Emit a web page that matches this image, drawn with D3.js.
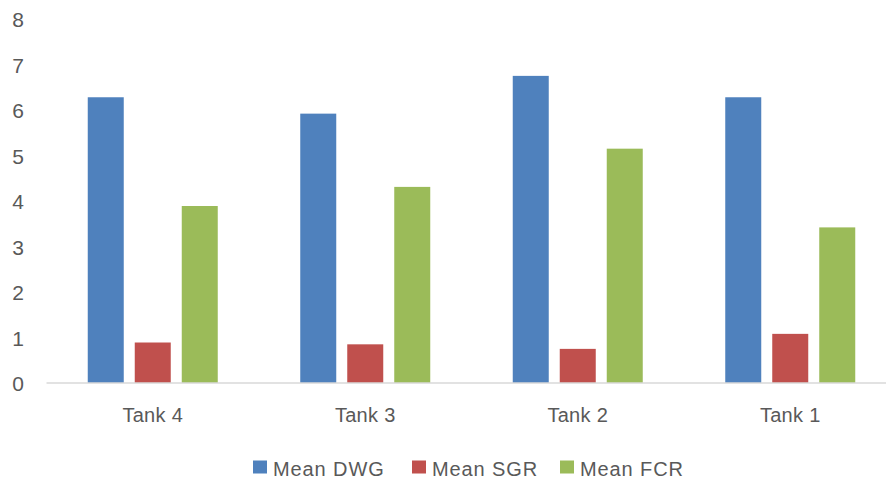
<!DOCTYPE html>
<html>
<head>
<meta charset="utf-8">
<script src="https://cdn.jsdelivr.net/npm/d3@7"></script>
<style>
  html, body { margin: 0; padding: 0; background: #fff; }
  svg { display: block; font-family: "Liberation Sans", Arial, sans-serif; }
</style>
</head>
<body>
<svg id="chart" width="886" height="479"></svg>
<script>
// Tanks in display order and the three measured means per tank
const categories = ["Tank 4", "Tank 3", "Tank 2", "Tank 1"];
const seriesNames = ["Mean DWG", "Mean SGR", "Mean FCR"];
const meanDWG = [6.28, 5.92, 6.75, 6.28];
const meanSGR = [0.89, 0.85, 0.75, 1.08];
const meanFCR = [3.89, 4.31, 5.15, 3.42];
const yTicks = [0, 1, 2, 3, 4, 5, 6, 7, 8];
const colors = ["#4f81bd", "#c0504d", "#9bbb59"];

const seriesValues = [meanDWG, meanSGR, meanFCR];
const rows = categories.map((c, i) => ({
  category: c,
  values: seriesNames.map((s, j) => ({ series: s, value: seriesValues[j][i] }))
}));

const svg = d3.select("#chart");
const plot = { left: 46.5, right: 896.5, top: 19, bottom: 383 };

const x0 = d3.scaleBand().domain(categories).range([plot.left, plot.right]).padding(0);
const groupInset = 41.25;
const x1 = d3.scaleBand().domain(seriesNames)
  .range([groupInset, x0.bandwidth() - groupInset])
  .paddingInner(0.234).paddingOuter(0);
const y = d3.scaleLinear().domain([0, 8]).range([plot.bottom, plot.top]);
const color = d3.scaleOrdinal().domain(seriesNames).range(colors);

// Bars
const groups = svg.append("g").selectAll("g").data(rows).join("g")
  .attr("transform", d => `translate(${x0(d.category)},0)`);
groups.selectAll("rect").data(d => d.values).join("rect")
  .attr("x", d => x1(d.series))
  .attr("width", x1.bandwidth())
  .attr("y", d => y(d.value))
  .attr("height", d => y(0) - y(d.value))
  .attr("fill", d => color(d.series));

// Baseline
svg.append("line")
  .attr("x1", plot.left).attr("x2", plot.right)
  .attr("y1", y(0)).attr("y2", y(0))
  .attr("stroke", "#d9d9d9").attr("stroke-width", 1.5);

// Y axis labels (no axis line or tick marks)
const yAxis = d3.axisLeft(y).tickValues(yTicks).tickSize(0).tickPadding(0).tickFormat(d3.format("d"));
const yg = svg.append("g").attr("transform", "translate(24,0)").call(yAxis);
yg.select(".domain").remove();
yg.selectAll("text")
  .attr("font-size", 21)
  .attr("font-family", "Liberation Sans, Arial, sans-serif")
  .attr("fill", "#595959")
  .attr("dy", "0.36em");

// Category labels
const xAxis = d3.axisBottom(x0).tickSize(0).tickPadding(0);
const xg = svg.append("g").attr("transform", `translate(0,${y(0)})`).call(xAxis);
xg.select(".domain").remove();
xg.selectAll("text")
  .attr("y", 39)
  .attr("dy", 0)
  .attr("font-size", 20)
  .attr("letter-spacing", 0.3)
  .attr("font-family", "Liberation Sans, Arial, sans-serif")
  .attr("fill", "#595959");

// Legend
const legendX = [253, 412, 560];
const legend = svg.append("g").selectAll("g").data(seriesNames).join("g")
  .attr("transform", (d, i) => `translate(${legendX[i]},0)`);
legend.append("rect")
  .attr("x", 0).attr("y", 460.5)
  .attr("width", 14).attr("height", 13)
  .attr("fill", d => color(d));
legend.append("text")
  .attr("x", 20).attr("y", 476)
  .attr("font-size", 20)
  .attr("letter-spacing", 0.9)
  .attr("fill", "#595959")
  .text(d => d);
</script>
</body>
</html>
